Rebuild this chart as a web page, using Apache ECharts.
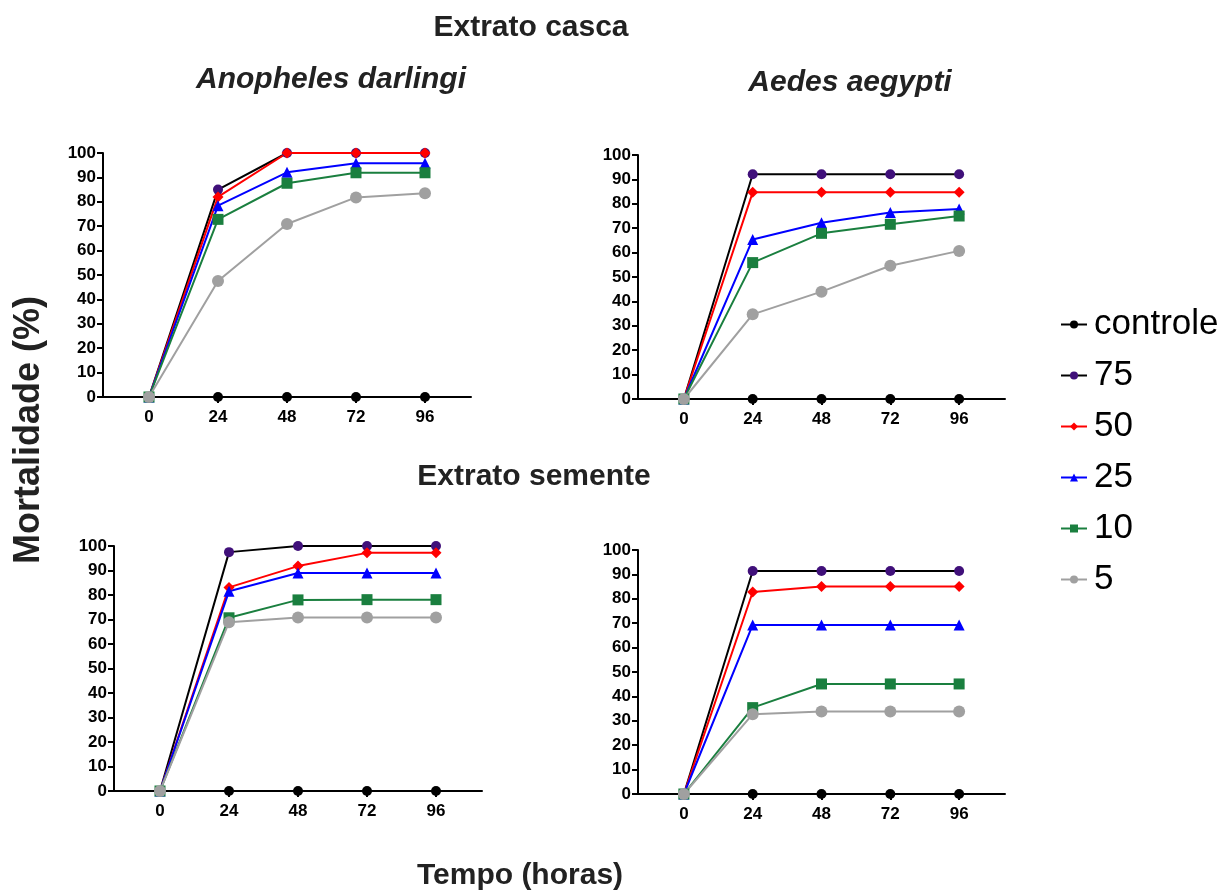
<!DOCTYPE html>
<html><head><meta charset="utf-8">
<script src="https://cdn.jsdelivr.net/npm/echarts@6/dist/echarts.min.js"></script>
<style>html,body{margin:0;padding:0;background:#fff}#c{width:1222px;height:890px}</style>
</head><body><div id="c"></div>
<script>
// ---- data ----
const hours = [0, 24, 48, 72, 96];
const seriesNames = ['controle', '75', '50', '25', '10', '5'];
const yTicks = [0, 10, 20, 30, 40, 50, 60, 70, 80, 90, 100];

// Extrato casca - Anopheles darlingi
const cascaAnopheles = {
  controle: [0, 0, 0, 0, 0],
  '75': [0, 85, 100, 100, 100],
  '50': [0, 82, 100, 100, 100],
  '25': [0, 78.4, 92.1, 95.8, 95.8],
  '10': [0, 72.8, 87.6, 91.9, 91.9],
  '5': [0, 47.5, 70.9, 81.8, 83.5]
};
// Extrato casca - Aedes aegypti
const cascaAedes = {
  controle: [0, 0, 0, 0, 0],
  '75': [0, 92.1, 92.1, 92.1, 92.1],
  '50': [0, 84.7, 84.7, 84.7, 84.7],
  '25': [0, 65.4, 72.2, 76.4, 77.9],
  '10': [0, 55.9, 67.9, 71.6, 75.0],
  '5': [0, 34.7, 44.0, 54.6, 60.7]
};
// Extrato semente - Anopheles darlingi
const sementeAnopheles = {
  controle: [0, 0, 0, 0, 0],
  '75': [0, 97.5, 100, 100, 100],
  '50': [0, 83.1, 91.8, 97.2, 97.2],
  '25': [0, 81.5, 89.0, 89.0, 89.0],
  '10': [0, 70.7, 78.0, 78.1, 78.1],
  '5': [0, 68.9, 70.8, 70.8, 70.8]
};
// Extrato semente - Aedes aegypti
const sementeAedes = {
  controle: [0, 0, 0, 0, 0],
  '75': [0, 91.4, 91.4, 91.4, 91.4],
  '50': [0, 82.8, 85.0, 85.0, 85.0],
  '25': [0, 69.3, 69.3, 69.3, 69.3],
  '10': [0, 35.4, 45.1, 45.1, 45.1],
  '5': [0, 32.7, 33.8, 33.8, 33.8]
};

const panels = [cascaAnopheles, cascaAedes, sementeAnopheles, sementeAedes];

// ---- styles ----
const styles = {
  controle: {line: '#000000', mark: '#000000', symbol: 'circle', size: 10},
  '75': {line: '#000000', mark: '#40107a', symbol: 'circle', size: 10},
  '50': {line: '#ff0000', mark: '#ff0000', symbol: 'diamond', size: 11},
  '25': {line: '#0000ff', mark: '#0000ff', symbol: 'triangle', size: 11},
  '10': {line: '#1a7f3f', mark: '#1a7f3f', symbol: 'rect', size: 11},
  '5': {line: '#a0a0a0', mark: '#a0a0a0', symbol: 'circle', size: 12}
};

const grids = [
  {left: 103, top: 153, width: 368, height: 244},
  {left: 638, top: 155, width: 367, height: 244},
  {left: 114, top: 546, width: 368, height: 245},
  {left: 638, top: 550, width: 367, height: 244}
];

const axisFont = {color: '#000', fontWeight: 'bold', fontSize: 17, fontFamily: 'Liberation Sans, Arial, sans-serif'};

const xAxes = grids.map((g, i) => ({
  gridIndex: i, type: 'value', min: -16, max: 112,
  axisLine: {show: true, onZero: false, lineStyle: {color: '#000', width: 2}},
  axisTick: {show: true, customValues: hours, length: 6, lineStyle: {color: '#000', width: 2}},
  axisLabel: Object.assign({customValues: hours, margin: 12}, axisFont),
  splitLine: {show: false}
}));
const yAxes = grids.map((g, i) => ({
  gridIndex: i, type: 'value', min: 0, max: 100, interval: 10,
  axisLine: {show: true, onZero: false, lineStyle: {color: '#000', width: 2}},
  axisTick: {show: true, length: 6, lineStyle: {color: '#000', width: 2}},
  axisLabel: Object.assign({margin: 7}, axisFont),
  splitLine: {show: false}
}));

const series = [];
panels.forEach((p, i) => {
  seriesNames.forEach(n => {
    const s = styles[n];
    series.push({
      name: n, type: 'line', xAxisIndex: i, yAxisIndex: i,
      data: hours.map((h, k) => [h, p[n][k]]),
      symbol: s.symbol, symbolSize: s.size, clip: false,
      lineStyle: {color: s.line, width: 2},
      itemStyle: {color: s.mark},
      emphasis: {disabled: true},
      animation: false
    });
  });
});

const titleFont = 'Liberation Sans, Arial, sans-serif';
const txt = (text, x, y, size, italic) => ({
  type: 'text', x: x, y: y,
  style: {text: text, fill: '#222', fontFamily: titleFont, fontWeight: 'bold', fontSize: size,
    fontStyle: italic ? 'italic' : 'normal', textAlign: 'center', textVerticalAlign: 'middle'}
});

const chart = echarts.init(document.getElementById('c'), null, {renderer: 'canvas'});
chart.setOption({
  animation: false,
  backgroundColor: '#fff',
  grid: grids.map(g => Object.assign({containLabel: false}, g)),
  xAxis: xAxes,
  yAxis: yAxes,
  series: series,
  legend: {
    data: seriesNames, orient: 'vertical', left: 1055, top: 302,
    itemWidth: 26, itemHeight: 10, itemGap: 16,
    textStyle: {fontSize: 35, color: '#000', fontFamily: 'Liberation Sans, Arial, sans-serif', padding: [0, 0, 0, 2]},
    selectedMode: false
  },
  graphic: [
    txt('Extrato casca', 531, 28, 30),
    txt('Anopheles darlingi', 331, 80, 30, true),
    txt('Aedes aegypti', 850, 83, 30, true),
    txt('Extrato semente', 534, 477, 30),
    txt('Tempo (horas)', 520, 876, 30),
    {type: 'text', x: 29, y: 430, rotation: Math.PI / 2,
     style: {text: 'Mortalidade (%)', fill: '#222', fontFamily: titleFont, fontWeight: 'bold', fontSize: 36,
       textAlign: 'center', textVerticalAlign: 'middle'}}
  ]
});
</script></body></html>
